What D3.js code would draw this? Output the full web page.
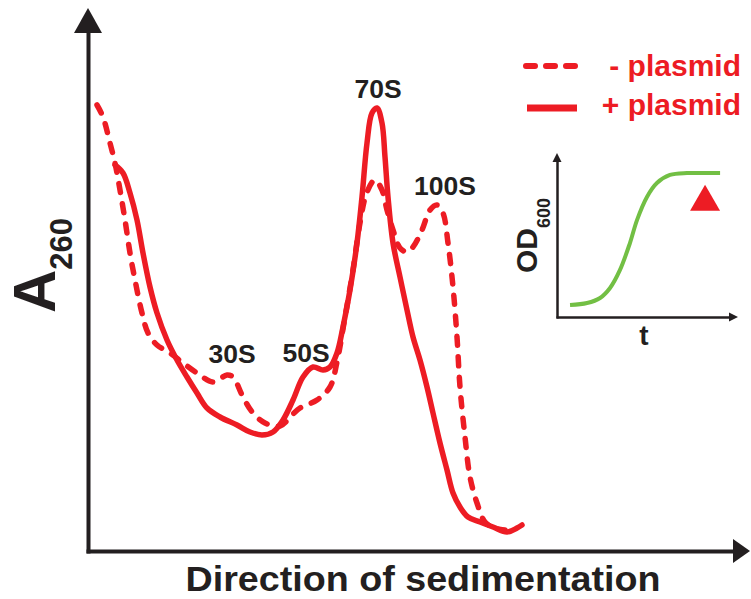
<!DOCTYPE html>
<html>
<head>
<meta charset="utf-8">
<script src="https://cdn.jsdelivr.net/npm/d3@7"></script>
<style>
  body { margin: 0; background: #fff; }
  text { font-family: 'Liberation Sans', Arial, Helvetica, sans-serif; font-weight: bold; }
</style>
</head>
<body>
<div id="chart"></div>
<script>
// gradient profile, [fraction, A260] (arbitrary units)
const minusPlasmid = [
  [0.9, 44.6], [1.5, 43.4], [2.2, 40.8], [2.7, 38.8], [3.2, 36.1], [3.7, 33.1],
  [4.2, 29.8], [4.7, 27.1], [5.4, 23.8], [6.0, 21.8], [6.9, 20.6], [8.2, 19.8],
  [9.5, 18.8], [10.9, 17.8], [12.5, 16.9], [13.9, 17.6], [14.5, 17.4], [15.5, 15.4],
  [16.5, 13.8], [17.7, 12.8], [19.2, 12.5], [20.5, 13.7], [21.2, 14.3], [22.9, 15.1],
  [24.2, 16.4], [24.9, 18.9], [25.7, 23.4], [26.5, 28.1], [27.2, 32.8], [27.9, 35.9],
  [28.7, 37.1], [29.4, 36.1], [29.9, 34.1], [30.5, 32.1], [31.2, 30.3], [31.9, 29.9],
  [32.5, 30.4], [33.4, 32.1], [34.2, 34.1], [34.9, 34.6], [35.5, 33.8], [36.0, 30.8],
  [36.5, 26.4], [36.9, 21.4], [37.2, 16.4], [37.7, 11.4], [38.2, 7.4], [38.9, 4.8],
  [39.7, 2.9], [40.7, 2.3], [41.7, 2.1],
];

const plusPlasmid = [
  [2.7, 38.6], [3.5, 37.8], [4.2, 35.8], [4.9, 33.1], [5.5, 29.8], [6.2, 26.4],
  [6.9, 23.8], [7.9, 21.1], [8.9, 19.1], [9.9, 17.4], [10.9, 15.8], [11.9, 14.3],
  [13.2, 13.4], [14.9, 12.6], [16.2, 11.9], [17.4, 11.6], [18.5, 11.9], [19.5, 13.1],
  [20.5, 15.1], [21.5, 17.4], [22.5, 18.4], [23.5, 18.1], [24.2, 18.4], [24.9, 19.8],
  [25.5, 22.4], [26.2, 26.1], [26.9, 30.8], [27.4, 35.4], [27.9, 40.8], [28.4, 43.8],
  [28.9, 44.3], [29.4, 42.8], [29.7, 39.4], [30.0, 35.4], [30.5, 30.8], [31.2, 27.4],
  [31.9, 24.1], [32.5, 21.4], [33.2, 19.1], [33.9, 16.4], [34.5, 13.8], [35.2, 10.8],
  [35.9, 8.1], [36.5, 5.8], [37.2, 4.4], [38.0, 3.4], [39.2, 2.9], [40.5, 2.4],
  [41.9, 1.9], [42.9, 2.3], [43.4, 2.6],
];

// peak annotations, [label, fraction, A260]
const peakLabels = [
  ['30S', 14.4, 18.8],
  ['50S', 21.8, 18.9],
  ['70S', 29.0, 45.3],
  ['100S', 35.7, 35.6],
];

const legendNames = ['- plasmid', '+ plasmid'];

// inset growth curve
const growthT = [0.72, 1.66, 2.38, 2.93, 3.48, 4.03, 4.42, 4.97, 5.52, 6.24, 7.18, 7.9, 9.01];
const growthOD = [0.73, 0.85, 1.16, 1.77, 2.87, 4.51, 5.91, 7.32, 8.17, 8.66, 8.78, 8.78, 8.78];
const harvestPoint = [8.18, 7.01];

const width = 751;
const height = 599;
const red = '#ed1c24';
const ink = '#231f20';
const green = '#72bf44';

const x = d3.scaleLinear([0, 66.2], [88, 750]);
const y = d3.scaleLinear([0, 54.3], [551, 8]);

const svg = d3
  .select('#chart')
  .append('svg')
  .attr('width', width)
  .attr('height', height)
  .attr('viewBox', [0, 0, width, height]);

// main axes, arrow heads drawn on top
const xAxisScale = x.copy().range([86, 736]);
const yAxisScale = y.copy().range([553, 30]);

svg
  .append('g')
  .attr('transform', `translate(0,${y(0)})`)
  .call(d3.axisBottom(xAxisScale).tickValues([]).tickSizeOuter(0))
  .call((g) => g.select('.domain').attr('stroke', ink).attr('stroke-width', 4));

svg
  .append('g')
  .attr('transform', `translate(${x(0)},0)`)
  .call(d3.axisLeft(yAxisScale).tickValues([]).tickSizeOuter(0))
  .call((g) => g.select('.domain').attr('stroke', ink).attr('stroke-width', 4));

const [x0, x1] = x.range();
const [y0, y1] = y.range();
svg
  .append('polygon')
  .attr('points', [[x0 - 14, y1 + 25], [x0, y1], [x0 + 14, y1 + 25]].join(' '))
  .attr('fill', ink);
svg
  .append('polygon')
  .attr('points', [[x1 - 17, y0 - 12], [x1, y0], [x1 - 17, y0 + 12]].join(' '))
  .attr('fill', ink);

// profiles
const line = d3
  .line()
  .x((d) => x(d[0]))
  .y((d) => y(d[1]))
  .curve(d3.curveCatmullRom.alpha(0.5));

svg
  .append('path')
  .attr('d', line(minusPlasmid))
  .attr('fill', 'none')
  .attr('stroke', red)
  .attr('stroke-width', 5.5)
  .attr('stroke-linecap', 'round')
  .attr('stroke-linejoin', 'round')
  .attr('stroke-dasharray', '9,11.5');

svg
  .append('path')
  .attr('d', line(plusPlasmid))
  .attr('fill', 'none')
  .attr('stroke', red)
  .attr('stroke-width', 5.5)
  .attr('stroke-linecap', 'round')
  .attr('stroke-linejoin', 'round');

svg
  .append('g')
  .selectAll('text')
  .data(peakLabels)
  .join('text')
  .attr('x', (d) => x(d[1]))
  .attr('y', (d) => y(d[2]))
  .attr('text-anchor', 'middle')
  .attr('font-size', 26.5)
  .attr('fill', ink)
  .text((d) => d[0]);

// axis titles
svg
  .append('text')
  .attr('x', 423)
  .attr('y', 591)
  .attr('text-anchor', 'middle')
  .attr('font-size', 35)
  .attr('textLength', 475)
  .attr('lengthAdjust', 'spacingAndGlyphs')
  .attr('fill', ink)
  .text('Direction of sedimentation');

const yTitle = svg
  .append('text')
  .attr('transform', 'translate(55,313) rotate(-90)')
  .attr('font-size', 60)
  .attr('fill', ink)
  .text('A');
yTitle.append('tspan').attr('font-size', 31).attr('dy', 17).text('260');

// legend
const legend = svg.append('g');
legendNames.forEach((name, i) => {
  const ly = i === 0 ? 66 : 108;
  legend
    .append('line')
    .attr('x1', i === 0 ? 526 : 527)
    .attr('x2', i === 0 ? 575 : 577)
    .attr('y1', ly)
    .attr('y2', ly)
    .attr('stroke', red)
    .attr('stroke-width', i === 0 ? 6 : 7)
    .attr('stroke-linecap', i === 0 ? 'round' : 'butt')
    .attr('stroke-dasharray', i === 0 ? '9,11' : null);
  legend
    .append('text')
    .attr('x', 741)
    .attr('y', i === 0 ? 76 : 115)
    .attr('text-anchor', 'end')
    .attr('font-size', 30)
    .attr('fill', red)
    .text(name);
});

// inset: growth curve
const ix = d3.scaleLinear([0, 10], [557, 738]);
const iy = d3.scaleLinear([0, 10], [317, 153]);
const inset = svg.append('g');

inset
  .append('g')
  .attr('transform', `translate(0,${iy(0)})`)
  .call(d3.axisBottom(ix.copy().range([556, 730])).tickValues([]).tickSizeOuter(0))
  .call((g) => g.select('.domain').attr('stroke', ink).attr('stroke-width', 2.5));
inset
  .append('g')
  .attr('transform', `translate(${ix(0)},0)`)
  .call(d3.axisLeft(iy.copy().range([318, 161])).tickValues([]).tickSizeOuter(0))
  .call((g) => g.select('.domain').attr('stroke', ink).attr('stroke-width', 2.5));

const [ix0, ix1] = ix.range();
const [iy0, iy1] = iy.range();
inset
  .append('polygon')
  .attr('points', [[ix0 - 4.5, iy1 + 9], [ix0, iy1], [ix0 + 4.5, iy1 + 9]].join(' '))
  .attr('fill', ink);
inset
  .append('polygon')
  .attr('points', [[ix1 - 9, iy0 - 4.5], [ix1, iy0], [ix1 - 9, iy0 + 4.5]].join(' '))
  .attr('fill', ink);

const growthLine = d3
  .line()
  .x((d, i) => ix(growthT[i]))
  .y((d) => iy(d))
  .curve(d3.curveCatmullRom.alpha(0.5));

inset
  .append('path')
  .attr('d', growthLine(growthOD))
  .attr('fill', 'none')
  .attr('stroke', green)
  .attr('stroke-width', 4)
  .attr('stroke-linecap', 'butt');

inset
  .append('path')
  .attr('d', d3.symbol(d3.symbolTriangle, 390)())
  .attr('transform', `translate(${ix(harvestPoint[0])},${iy(harvestPoint[1])})`)
  .attr('fill', red);

inset
  .append('text')
  .attr('x', 644)
  .attr('y', 345)
  .attr('text-anchor', 'middle')
  .attr('font-size', 28)
  .attr('fill', ink)
  .text('t');

const odTitle = inset
  .append('text')
  .attr('transform', 'translate(537,273) rotate(-90)')
  .attr('font-size', 30)
  .attr('fill', ink)
  .text('OD');
odTitle.append('tspan').attr('font-size', 18).attr('dy', 13).text('600');
</script>
</body>
</html>
